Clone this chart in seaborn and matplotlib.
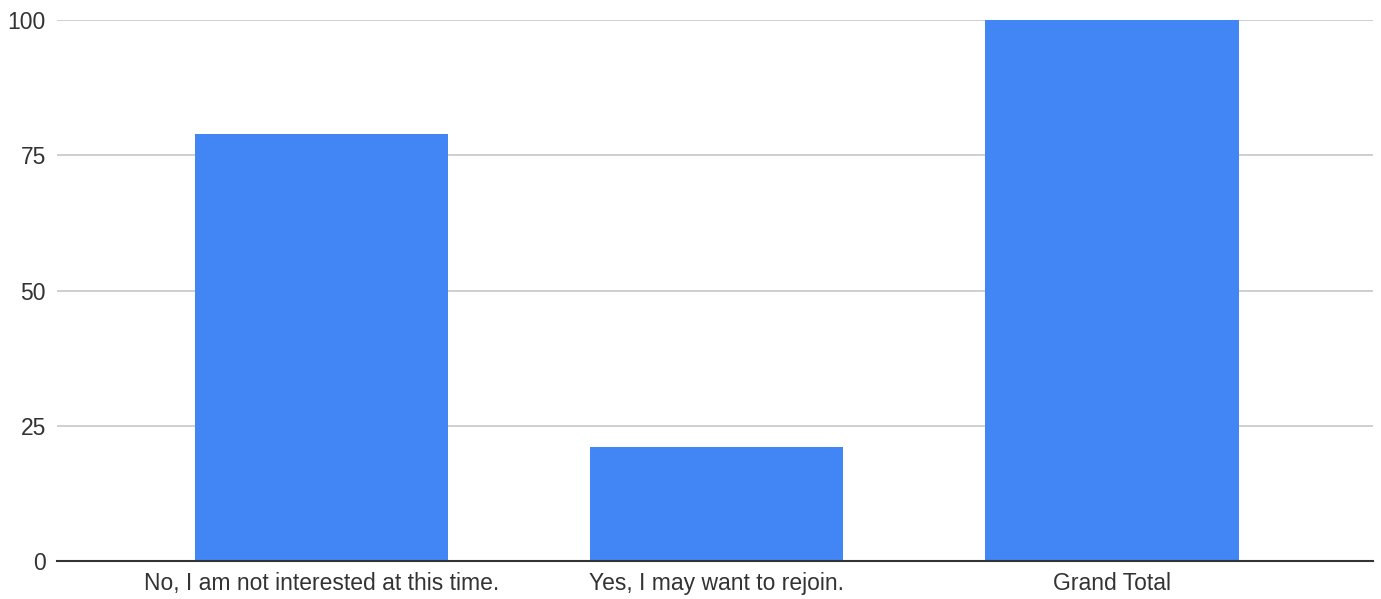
import pandas as pd
import matplotlib.pyplot as plt
import seaborn as sns

categories = ["No, I am not interested at this time.", "Yes, I may want to rejoin.", "Grand Total"]
counts = [79, 21, 100]

df = pd.DataFrame({"Answer": categories, "Count": counts})

sns.set_theme(style="white")
plt.rcParams["font.family"] = ["Liberation Sans", "DejaVu Sans"]

fig = plt.figure(figsize=(13.81, 5.99), dpi=100)
ax = fig.add_axes([0.0413, 0.0634, 0.9529, 0.9032])

sns.barplot(data=df, x="Answer", y="Count", color="#4285f4", saturation=1,
            width=0.64, linewidth=0, ax=ax)

ax.set_ylim(0, 100)
ax.set_xlim(-0.668, 2.66)
ax.set_yticks([0, 25, 50, 75, 100])
ax.yaxis.grid(True, color="#cccccc", linewidth=1.3)
ax.set_axisbelow(True)
for s in ["top", "right", "left"]:
    ax.spines[s].set_visible(False)
ax.spines["bottom"].set_color("#333333")
ax.spines["bottom"].set_linewidth(1.5)
ax.set_xlabel("")
ax.set_ylabel("")
ax.tick_params(axis="both", length=0, labelsize=16.5, labelcolor="#333333")
ax.tick_params(axis="y", pad=8)
ax.tick_params(axis="x", pad=8)

fig.savefig("out.png", dpi=100)
